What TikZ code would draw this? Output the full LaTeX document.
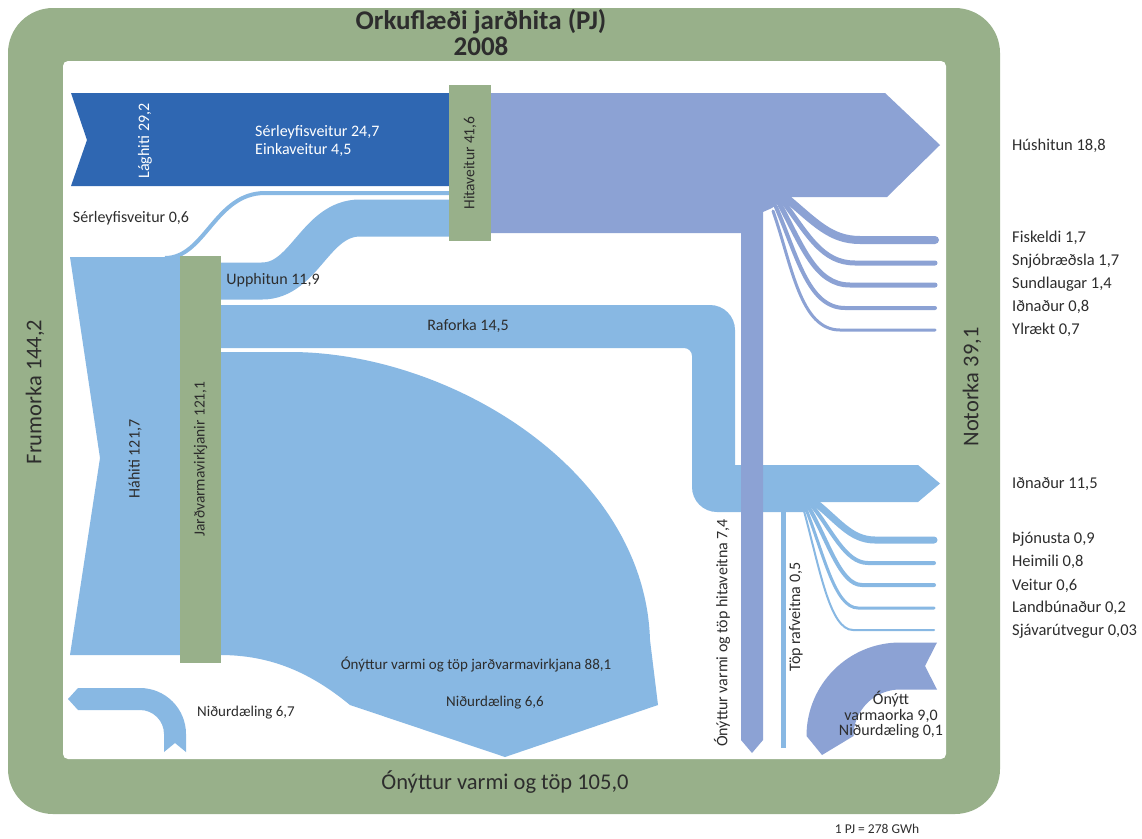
\documentclass[tikz,border=0pt]{standalone}
\usepackage{fontspec}
\setmainfont{Carlito}
\usepackage{xcolor}
\definecolor{framegreen}{RGB}{152,176,138}
\definecolor{lowblue}{RGB}{47,103,178}
\definecolor{highblue}{RGB}{136,184,227}
\definecolor{heatpurple}{RGB}{140,162,212}
\definecolor{textdark}{RGB}{45,45,45}

\begin{document}
\begin{tikzpicture}[x=1pt, y=-1pt,
    lbl/.style={font=\fontsize{16}{18}\selectfont, text=textdark, inner sep=0pt},
    smalllbl/.style={lbl, font=\fontsize{15}{17}\selectfont},
    whitelbl/.style={lbl, text=white},
    sidelbl/.style={lbl, font=\fontsize{16.5}{18}\selectfont, anchor=west},
    biglbl/.style={font=\fontsize{22.5}{26}\selectfont, text=textdark, inner sep=0pt},
    titlelbl/.style={font=\fontsize{27}{28}\selectfont\bfseries, text=textdark, inner sep=0pt},
    plant/.style={fill=framegreen, rotate=90, inner sep=0pt, font=\fontsize{15.5}{17}\selectfont, text=textdark},
    bluefan/.style={draw=highblue, line cap=round},
    purplefan/.style={draw=heatpurple, line cap=round}
]
\useasboundingbox (0,0) rectangle (1142,838);

% Frame
\fill[framegreen, rounded corners=45] (8,8) rectangle (1000,814);
\fill[white, rounded corners=5] (63,61) rectangle (946,759);

% Hahiti and the flows out of the power plants
\fill[highblue] (70,257) -- (180,257) -- (180,655) -- (70,655) -- (100,458) -- cycle;
\draw[highblue, line width=4] (165,258) .. controls (205,258) and (215,193) .. (265,193) -- (449,193);
\draw[highblue, line width=37] (220,281) -- (262,281) .. controls (305,281) and (315,218) .. (360,218) -- (449,218);
\fill[highblue] (220,305) -- (710,305) arc(-90:0:25) -- (735,465) -- (918,465) -- (940,483.5)
    -- (918,502) -- (812,502) -- (806,512) -- (717,512) arc(90:180:25) -- (692,356) arc(0:-90:8)
    -- (220,348) -- cycle;
\fill[highblue] (220,352) -- (290,352) .. controls (450,352) and (645,470) .. (650,640)
    -- (658,705) -- (505,757) -- (350,705) .. controls (310,672) and (270,655) .. (220,655) -- cycle;
\fill[highblue] (68,699) -- (78,688) -- (140,688) arc(-90:0:46) -- (186,752) -- (175,743)
    -- (164,752) -- (164,734) arc(0:-90:24) -- (78,710) -- cycle;

% Electricity end use
\draw[bluefan, line width=7] (812,500) .. controls (838,520) and (850,540) .. (875,540) -- (934,540);
\draw[bluefan, line width=4] (810,503) .. controls (832,530) and (845,563) .. (868,563) -- (934,563);
\draw[bluefan, line width=4] (808,506) .. controls (828,540) and (840,585) .. (862,585) -- (934,585);
\draw[bluefan, line width=3] (806,509) .. controls (824,555) and (835,608) .. (858,608) -- (934,608);
\draw[bluefan, line width=2] (804,511) .. controls (820,570) and (830,630) .. (853,630) -- (934,630);
\draw[highblue, line width=5] (783,508) -- (783,748);

% Laghiti
\fill[lowblue] (71,93) -- (449,93) -- (449,186) -- (71,186) -- (87,140) -- cycle;

% District heating
\fill[heatpurple] (491,93) -- (885,93) -- (940,145) -- (887,197) -- (788,197) -- (772,208)
    -- (763,212) -- (763,740) -- (752,753) -- (741,740) -- (741,233) -- (491,233) -- cycle;
\draw[purplefan, line width=8] (785,197) .. controls (815,222) and (830,240) .. (860,240) -- (935,240);
\draw[purplefan, line width=5] (782,200) .. controls (808,235) and (822,263) .. (855,263) -- (935,263);
\draw[purplefan, line width=5] (779,203) .. controls (802,245) and (815,285) .. (850,285) -- (935,285);
\draw[purplefan, line width=4] (776,207) .. controls (797,255) and (808,308) .. (845,308) -- (935,308);
\draw[purplefan, line width=3] (773,211) .. controls (792,265) and (800,330) .. (840,330) -- (935,330);
\fill[heatpurple] (937,642.5) -- (900,642.5) arc(-90:-180:93.5) -- (822,755) -- (853.5,736)
    arc(180:270:46.5) -- (937,689.5) -- (925,666) -- cycle;

% Plants
\node[plant, minimum width=156, minimum height=42] (hitaveitur) at (470,163) {Hitaveitur 41,6};
\node[plant, minimum width=407, minimum height=41] (virkjanir) at (200.5,459) {Jarðvarmavirkjanir 121,1};

% Labels
\node[titlelbl] (title) at (481,22) {Orkuflæði jarðhita (PJ)};
\node[titlelbl] (year) at (481,46) {2008};
\node[biglbl, rotate=90] (frumorka) at (35,392) {Frumorka 144,2};
\node[biglbl, rotate=90] (notorka) at (972,387) {Notorka 39,1};
\node[biglbl] (onyttur) at (505,782) {Ónýttur varmi og töp 105,0};
\node[lbl, font=\fontsize{13.5}{15}\selectfont] (unit) at (877,829) {1 PJ = 278 GWh};

\node[whitelbl, rotate=90] (laghiti) at (145,141) {Lághiti 29,2};
\node[whitelbl, anchor=west, align=left] (veitur) at (255,141) {Sérleyfisveitur 24,7\\Einkaveitur 4,5};
\node[lbl] (serleyfi) at (131,218) {Sérleyfisveitur 0,6};
\node[lbl] (upphitun) at (273,280) {Upphitun 11,9};
\node[lbl] (raforka) at (468,326) {Raforka 14,5};
\node[lbl, rotate=90] (hahiti) at (135,459) {Háhiti 121,7};
\node[smalllbl] (tapvirkj) at (476,665) {Ónýttur varmi og töp jarðvarmavirkjana 88,1};
\node[smalllbl] (nidur66) at (495,703) {Niðurdæling 6,6};
\node[smalllbl] (nidur67) at (246,713) {Niðurdæling 6,7};
\node[lbl, rotate=90] (taphita) at (722,633) {Ónýttur varmi og töp hitaveitna 7,4};
\node[lbl, rotate=90] (taprafv) at (796,617) {Töp rafveitna 0,5};
\node[lbl, font=\fontsize{16}{15.5}\selectfont, align=center] (onytt) at (891,715) {Ónýtt\\varmaorka 9,0\\Niðurdæling 0,1};

% End use
\node[sidelbl] (hushitun) at (1012,146) {Húshitun 18,8};
\node[sidelbl] (fiskeldi) at (1012,238) {Fiskeldi 1,7};
\node[sidelbl] (snjo) at (1012,261) {Snjóbræðsla 1,7};
\node[sidelbl] (sund) at (1012,284) {Sundlaugar 1,4};
\node[sidelbl] (idnadur1) at (1012,307) {Iðnaður 0,8};
\node[sidelbl] (ylraekt) at (1012,330) {Ylrækt 0,7};
\node[sidelbl] (idnadur2) at (1012,484) {Iðnaður 11,5};
\node[sidelbl] (thjon) at (1012,539) {Þjónusta 0,9};
\node[sidelbl] (heimili) at (1012,562) {Heimili 0,8};
\node[sidelbl] (veitur2) at (1012,586) {Veitur 0,6};
\node[sidelbl] (landb) at (1012,608) {Landbúnaður 0,2};
\node[sidelbl] (sjav) at (1012,631) {Sjávarútvegur 0,03};

\end{tikzpicture}
\end{document}
